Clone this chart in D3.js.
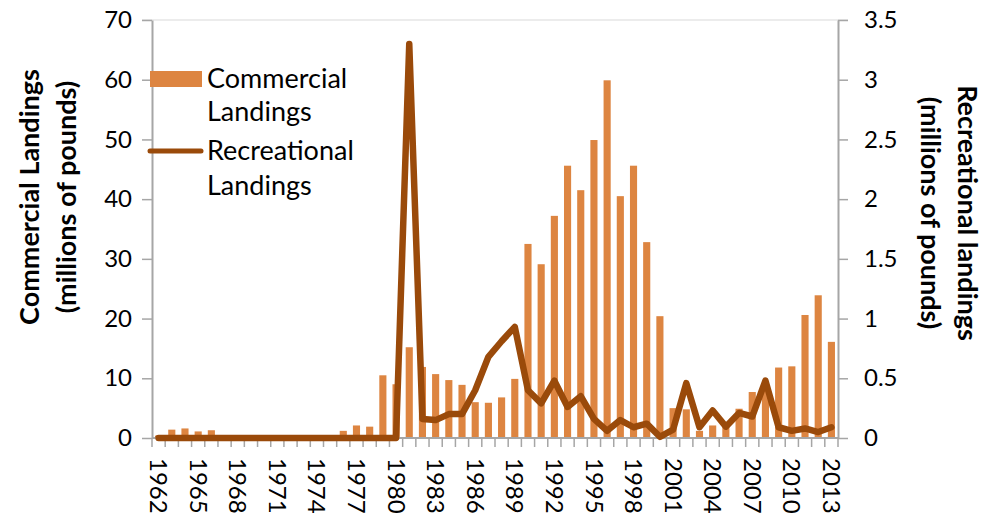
<!DOCTYPE html>
<html>
<head>
<meta charset="utf-8">
<script src="https://cdn.jsdelivr.net/npm/d3@7"></script>
<style>
  body { margin: 0; background: #fff; }
  svg { font-family: Lato, 'Open Sans', sans-serif; }
</style>
</head>
<body>
<div id="chart"></div>
<script>
const years = d3.range(1962, 2014);
const commercial = [
  0.4, 1.4, 1.6, 1.1, 1.3, 0.5, 0, 0, 0, 0,
  0, 0, 0, 0, 1.2, 2.1, 1.9, 10.5, 9.0, 15.2,
  11.9, 10.7, 9.7, 8.9, 6.0, 5.9, 6.8, 9.9, 32.5, 29.1,
  37.2, 45.6, 41.5, 49.9, 59.9, 40.5, 45.6, 32.8, 20.4, 5.0,
  4.8, 1.2, 2.1, 1.9, 4.9, 7.7, 8.0, 11.8, 12.0, 20.6,
  23.9, 16.1
];
const recreational = [
  0, 0, 0, 0, 0, 0, 0, 0, 0, 0,
  0, 0, 0, 0, 0, 0, 0, 0, 0, 3.3,
  0.16, 0.15, 0.2, 0.2, 0.4, 0.68, 0.81, 0.93, 0.4, 0.29,
  0.48, 0.26, 0.35, 0.16, 0.06, 0.15, 0.09, 0.12, 0.01, 0.07,
  0.46, 0.09, 0.23, 0.095, 0.21, 0.18, 0.48, 0.09, 0.06, 0.08,
  0.05, 0.09
];
const leftTicks = [0, 10, 20, 30, 40, 50, 60, 70];
const rightTicks = [0, 0.5, 1, 1.5, 2, 2.5, 3, 3.5];
const labelYears = years.filter((y, i) => i % 3 === 0);

const width = 996, height = 518;
const margin = { top: 20, right: 158, bottom: 80, left: 152 };
const barColor = '#dd8541', lineColor = '#9a4a0a', axisColor = '#a6a6a6';

const svg = d3.select('#chart').append('svg')
  .attr('width', width)
  .attr('height', height);

const x = d3.scaleBand()
  .domain(years)
  .range([margin.left, width - margin.right])
  .paddingInner(0.46)
  .paddingOuter(0.23);

const yL = d3.scaleLinear().domain([0, 70]).range([height - margin.bottom, margin.top]);
const yR = d3.scaleLinear().domain([0, 3.5]).range([height - margin.bottom, margin.top]);

// top border line
svg.append('line')
  .attr('x1', margin.left - 10).attr('x2', width - margin.right + 10)
  .attr('y1', yL(70)).attr('y2', yL(70))
  .attr('stroke', '#d9d9d9').attr('stroke-width', 1);

// bars
svg.append('g')
  .selectAll('rect')
  .data(commercial)
  .enter()
  .append('rect')
  .attr('x', (d, i) => x(years[i]))
  .attr('width', x.bandwidth())
  .attr('y', d => yL(d))
  .attr('height', d => yL(0) - yL(d))
  .attr('fill', barColor);

// left axis
const leftAxis = svg.append('g')
  .attr('transform', `translate(${margin.left},0)`)
  .call(d3.axisLeft(yL).tickValues(leftTicks).tickSize(10).tickPadding(10).tickSizeOuter(0));

// right axis
const rightAxis = svg.append('g')
  .attr('transform', `translate(${width - margin.right},0)`)
  .call(d3.axisRight(yR).tickValues(rightTicks).tickSize(10).tickPadding(16).tickSizeOuter(0)
    .tickFormat(d3.format('')));

// x axis: ticks at band edges
const step = x.step();
const x0 = margin.left;
const xAxis = svg.append('g');
xAxis.append('line')
  .attr('x1', margin.left).attr('x2', width - margin.right)
  .attr('y1', yL(0)).attr('y2', yL(0))
  .attr('stroke', axisColor).attr('stroke-width', 2);
xAxis.selectAll('line.tick')
  .data(years.concat([2014]))
  .enter()
  .append('line')
  .attr('class', 'tick')
  .attr('x1', (d, i) => x0 + i * step).attr('x2', (d, i) => x0 + i * step)
  .attr('y1', yL(0)).attr('y2', yL(0) + 9)
  .attr('stroke', axisColor).attr('stroke-width', 1.5);
xAxis.selectAll('text')
  .data(labelYears)
  .enter()
  .append('text')
  .attr('transform', d => `translate(${x(d) + x.bandwidth() / 2},${yL(0) + 20}) rotate(90)`)
  .attr('dy', '0.35em')
  .attr('font-size', 24)
  .text(d => d);

[leftAxis, rightAxis].forEach(g => {
  g.select('.domain').attr('stroke', axisColor).attr('stroke-width', 2);
  g.selectAll('.tick line').attr('stroke', axisColor).attr('stroke-width', 1.5);
  g.selectAll('.tick text').attr('font-size', 24).attr('fill', '#000')
    .attr('font-family', 'Lato, sans-serif');
});

// recreational line
const line = d3.line()
  .x((d, i) => x(years[i]) + x.bandwidth() / 2)
  .y(d => yR(d));
svg.append('path')
  .datum(recreational)
  .attr('d', line)
  .attr('fill', 'none')
  .attr('stroke', lineColor)
  .attr('stroke-width', 6.5)
  .attr('stroke-linejoin', 'round')
  .attr('stroke-linecap', 'round');

// axis titles
svg.append('text')
  .attr('transform', 'translate(30,197) rotate(-90)')
  .attr('text-anchor', 'middle')
  .attr('font-weight', 'bold')
  .attr('font-size', 27)
  .selectAll('tspan')
  .data(['Commercial Landings', '(millions of pounds)'])
  .enter()
  .append('tspan')
  .attr('x', 0)
  .attr('dy', (d, i) => i === 0 ? '0.35em' : '1.37em')
  .text(d => d);

svg.append('text')
  .attr('transform', 'translate(967,213) rotate(90)')
  .attr('text-anchor', 'middle')
  .attr('font-weight', 'bold')
  .attr('font-size', 27)
  .selectAll('tspan')
  .data(['Recreational landings', '(millions of pounds)'])
  .enter()
  .append('tspan')
  .attr('x', 0)
  .attr('dy', (d, i) => i === 0 ? '0.35em' : '1.37em')
  .text(d => d);

// legend
const legend = svg.append('g');
legend.append('rect')
  .attr('x', 150).attr('y', 71).attr('width', 52).attr('height', 16)
  .attr('fill', barColor);
legend.append('line')
  .attr('x1', 150).attr('x2', 201).attr('y1', 151).attr('y2', 151)
  .attr('stroke', lineColor).attr('stroke-width', 5).attr('stroke-linecap', 'round');
const legendText = [
  { t: 'Commercial', y: 79 },
  { t: 'Landings', y: 112 },
  { t: 'Recreational', y: 151 },
  { t: 'Landings', y: 186 }
];
legend.selectAll('text')
  .data(legendText)
  .enter()
  .append('text')
  .attr('x', 207).attr('y', d => d.y)
  .attr('dy', '0.35em')
  .attr('font-size', 27)
  .text(d => d.t);
</script>
</body>
</html>
